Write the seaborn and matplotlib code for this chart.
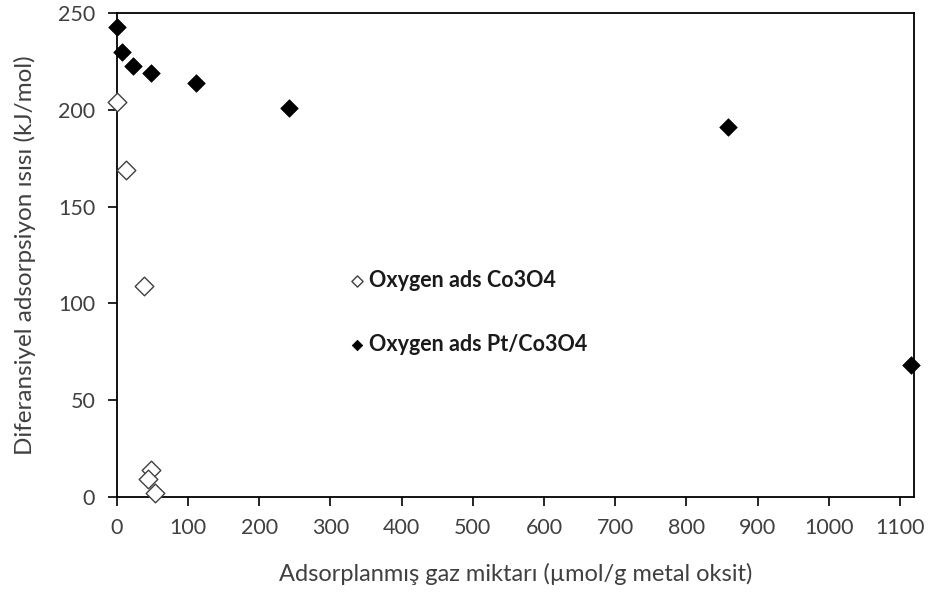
import matplotlib
matplotlib.use("Agg")
import matplotlib.pyplot as plt
import seaborn as sns
import pandas as pd

co_x = [1, 13, 39, 48, 44, 54]
co_y = [204, 169, 109, 14, 9, 2]
pt_x = [0, 8, 23, 48, 112, 242, 858, 1116]
pt_y = [243, 230, 223, 219, 214, 201, 191, 68]
x_ticks = list(range(0, 1101, 100))
y_ticks = list(range(0, 251, 50))

sns.set_theme(style="white")
plt.rcParams['font.family'] = ['Lato', 'DejaVu Sans']

fig = plt.figure(figsize=(9.3, 5.94), dpi=100)
ax = fig.add_axes([0.1255, 0.1638, 0.9831 - 0.1255, 0.9776 - 0.1638])

df_co = pd.DataFrame({"x": co_x, "y": co_y})
df_pt = pd.DataFrame({"x": pt_x, "y": pt_y})

sns.scatterplot(data=df_co, x="x", y="y", ax=ax, marker="D", s=90,
                facecolor="white", edgecolor="#404040", linewidth=1.0,
                label="Oxygen ads Co3O4", clip_on=False, zorder=3)
sns.scatterplot(data=df_pt, x="x", y="y", ax=ax, marker="D", s=80,
                color="black", edgecolor="black", linewidth=0.5,
                label="Oxygen ads Pt/Co3O4", clip_on=False, zorder=3)

ax.set_xlim(0, 1120)
ax.set_ylim(0, 250)
ax.set_xticks(x_ticks)
ax.set_yticks(y_ticks)

for sp in ax.spines.values():
    sp.set_color("black")
    sp.set_linewidth(1.3)

ax.tick_params(axis="both", which="major", direction="out", length=6.5,
               width=1.2, color="black", labelsize=15.5, labelcolor="#404040",
               bottom=True, left=True, pad=9)

ax.set_xlabel("Adsorplanmış gaz miktarı (µmol/g metal oksit)", fontsize=17,
              color="#404040", labelpad=18)
ax.set_ylabel("Diferansiyel adsorpsiyon ısısı (kJ/mol)", fontsize=17.5,
              color="#404040", labelpad=16)

leg = ax.legend(frameon=False, loc="upper left", bbox_to_anchor=(0.278, 0.487),
                fontsize=15.5, markerscale=0.6, labelspacing=2.0,
                handletextpad=0.1, handlelength=0.9, borderaxespad=0)
for t in leg.get_texts():
    t.set_fontweight("bold")
    t.set_color("#1a1a1a")

fig.savefig("out.png", dpi=100)
